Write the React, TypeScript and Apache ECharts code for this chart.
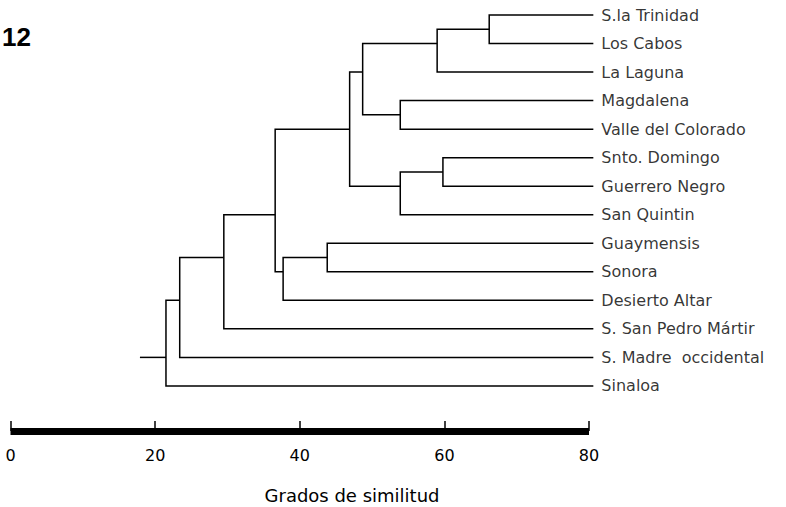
import React, { useEffect, useRef } from "react";
import * as echarts from "echarts";

// Leaves (top to bottom)
const LEAVES = [
  "S.la Trinidad",
  "Los Cabos",
  "La Laguna",
  "Magdalena",
  "Valle del Colorado",
  "Snto. Domingo",
  "Guerrero Negro",
  "San Quintin",
  "Guaymensis",
  "Sonora",
  "Desierto Altar",
  "S. San Pedro Mártir",
  "S. Madre  occidental",
  "Sinaloa",
];

// Linkage: node 14+k joins MERGE_A[k] and MERGE_B[k] (0..13 = leaves)
const MERGE_A = [0, 14, 3, 15, 5, 18, 17, 8, 21, 20, 23, 24, 25];
const MERGE_B = [1, 2, 4, 16, 6, 7, 19, 9, 10, 22, 11, 12, 13];
// Similarity level of each join
const MERGE_SIM = [66.2, 59.0, 53.9, 48.7, 59.8, 53.9, 46.9, 43.8, 37.7, 36.6, 29.5, 23.4, 21.5];
// Row (in leaf-index units) where each join attaches to its parent
const MERGE_ROW = [0.5, 1, 3.5, 2, 5.5, 6, 4, 8.5, 9, 7, 8.5, 10, 12];
const ROOT_START = 17.9;
const LEAF_END = 80.6;

const X_TICKS = [0, 20, 40, 60, 80];
const AXIS_TITLE = "Grados de similitud";
const FIG_LABEL = "12";

export default function App() {
  const ref = useRef<HTMLDivElement>(null);

  useEffect(() => {
    if (!ref.current) return;
    const chart = echarts.init(ref.current, undefined, { renderer: "svg" });
    const n = LEAVES.length;
    const xOf = (id: number) => (id < n ? LEAF_END : MERGE_SIM[id - n]);
    const rowOf = (id: number) => (id < n ? id : MERGE_ROW[id - n]);

    const segs: any[] = [];
    for (let k = 0; k < MERGE_A.length; k++) {
      const a = MERGE_A[k];
      const b = MERGE_B[k];
      const h = MERGE_SIM[k];
      segs.push({
        coords: [
          [xOf(a), rowOf(a)],
          [h, rowOf(a)],
          [h, rowOf(b)],
          [xOf(b), rowOf(b)],
        ],
      });
    }
    const rootId = n + MERGE_A.length - 1;
    segs.push({
      coords: [
        [ROOT_START, rowOf(rootId)],
        [xOf(rootId), rowOf(rootId)],
      ],
    });

    const font = "DejaVu Sans";
    chart.setOption({
      animation: false,
      grid: { left: 10.5, right: 197, top: 15, bottom: 76 },
      xAxis: {
        type: "value",
        min: X_TICKS[0],
        max: X_TICKS[X_TICKS.length - 1],
        interval: 20,
        axisLine: { show: true, onZero: false, lineStyle: { color: "#000", width: 7, cap: "butt" } },
        axisTick: { show: true, inside: true, length: 10, lineStyle: { color: "#000", width: 1.5 } },
        axisLabel: { margin: 16, color: "#000", fontSize: 16, fontFamily: font },
        splitLine: { show: false },
      },
      yAxis: {
        type: "value",
        inverse: true,
        min: 0,
        max: 14.58,
        show: false,
      },
      graphic: [
        {
          type: "text",
          left: 2,
          top: 24,
          style: {
            text: FIG_LABEL,
            font: "bold 26px 'Liberation Sans', Arial, sans-serif",
            fill: "#000",
          },
        },
        {
          type: "text",
          x: 352,
          y: 495,
          style: {
            text: AXIS_TITLE,
            fontSize: 18,
            fontFamily: font,
            fill: "#000",
            align: "center",
            verticalAlign: "middle",
          },
        },
      ],
      series: [
        {
          type: "lines",
          coordinateSystem: "cartesian2d",
          polyline: true,
          clip: false,
          silent: true,
          lineStyle: { color: "#000", width: 1.5, opacity: 1 },
          data: segs,
        },
        {
          type: "scatter",
          clip: false,
          symbolSize: 0,
          silent: true,
          data: LEAVES.map((name, i) => ({ value: [LEAF_END, i], name })),
          label: {
            show: true,
            position: "right",
            distance: 8,
            formatter: (p: any) => p.name,
            color: "#000",
            fontSize: 16,
            fontFamily: font,
          },
        },
      ],
    });
    return () => chart.dispose();
  }, []);

  return (
    <div
      ref={ref}
      style={{ position: "absolute", left: 0, top: 0, width: 786, height: 507, background: "#fff" }}
    />
  );
}
